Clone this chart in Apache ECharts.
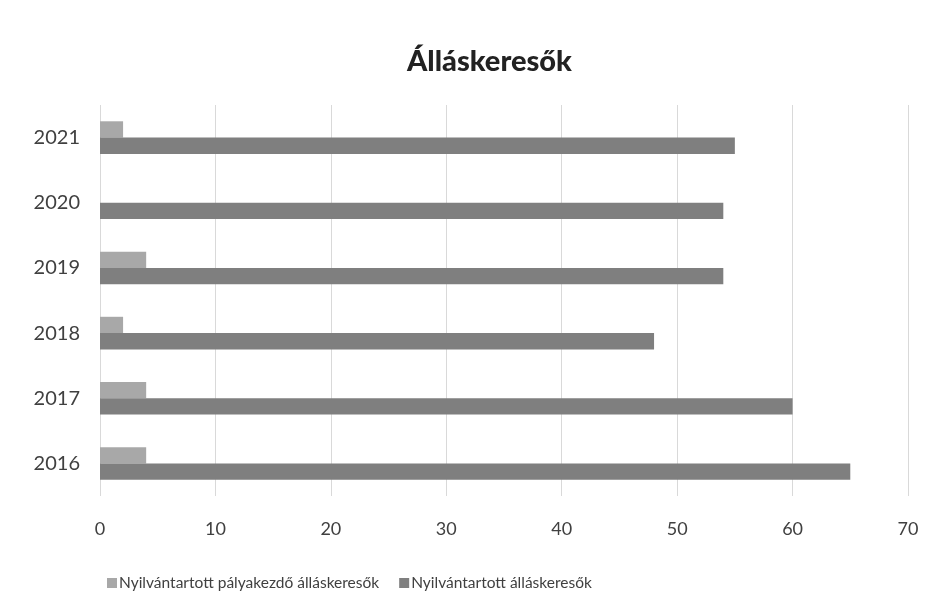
<!DOCTYPE html>
<html>
<head>
<meta charset="utf-8">
<script src="https://cdn.jsdelivr.net/npm/echarts@6/dist/echarts.min.js"></script>
<style>html,body{margin:0;padding:0;background:#fff}#c{width:934px;height:611px}</style>
</head>
<body>
<div id="c"></div>
<script>
const years = ['2016', '2017', '2018', '2019', '2020', '2021'];
const palyakezdo = [4, 4, 2, 4, 0, 2];
const osszes = [65, 60, 48, 54, 54, 55];
const xTicks = [0, 10, 20, 30, 40, 50, 60, 70];
const seriesNames = ['Nyilvántartott pályakezdő álláskeresők', 'Nyilvántartott álláskeresők'];
const titleText = 'Álláskeresők';

const chart = echarts.init(document.getElementById('c'));
chart.setOption({
  animation: false,
  backgroundColor: '#fff',
  title: {
    text: titleText, left: 402, top: 42,
    textStyle: { fontFamily: 'Lato', fontWeight: 900, fontSize: 29, color: '#222' }
  },
  legend: {
    data: seriesNames, left: 102, top: 570, itemWidth: 10, itemHeight: 10, itemGap: 20,
    icon: 'rect',
    textStyle: { fontFamily: 'Lato', fontSize: 15.5, color: '#404040', padding: [0, 0, 0, -3] }
  },
  grid: { left: 100, right: 26, top: 105, bottom: 115, containLabel: false },
  xAxis: {
    type: 'value', min: xTicks[0], max: xTicks[xTicks.length - 1], interval: 10,
    axisLine: { show: false }, axisTick: { show: false },
    splitLine: { lineStyle: { color: '#d9d9d9', width: 1 } },
    axisLabel: { fontFamily: 'Lato', fontSize: 18, color: '#404040', margin: 24 }
  },
  yAxis: {
    type: 'category', data: years,
    axisLine: { show: false }, axisTick: { show: false },
    axisLabel: { fontFamily: 'Lato', fontSize: 20, color: '#404040', margin: 20 }
  },
  series: [
    { name: seriesNames[0], type: 'bar', data: palyakezdo, barGap: '0%', barCategoryGap: '50%',
      itemStyle: { color: '#a8a8a8' } },
    { name: seriesNames[1], type: 'bar', data: osszes, barGap: '0%', barCategoryGap: '50%',
      itemStyle: { color: '#7f7f7f' } }
  ]
});
</script>
</body>
</html>
